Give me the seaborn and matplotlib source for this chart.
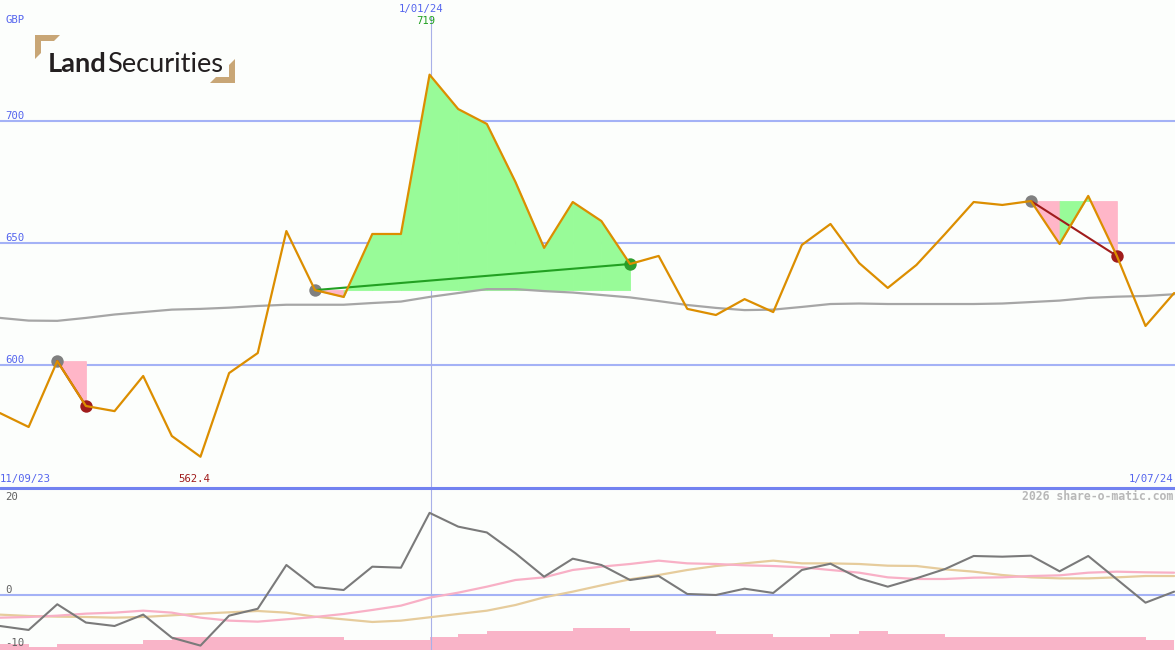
import numpy as np
import pandas as pd
import seaborn as sns
import matplotlib.pyplot as plt
from matplotlib.patches import Polygon


# weekly closes, GBP (pence)
price = [580.3, 574.6, 601.6, 583.2, 581.1, 595.5, 570.9, 562.4, 596.7, 604.9,
         654.9, 630.7, 627.9, 653.7, 653.7, 719.0, 704.9, 698.8, 675.0, 648.0,
         666.8, 659.0, 641.4, 644.7, 623.0, 620.5, 627.0, 621.7, 649.2, 657.8,
         641.8, 631.6, 641.0, 653.7, 666.8, 665.6, 667.2, 649.6, 669.3, 644.7,
         616.0, 629.5]
# slow moving average
avg = [619.3, 618.2, 618.1, 619.3, 620.7, 621.7, 622.7, 623.0, 623.5, 624.2,
       624.7, 624.7, 624.7, 625.4, 626.0, 627.9, 629.5, 631.1, 631.1, 630.3,
       629.7, 628.7, 627.7, 626.2, 624.6, 623.4, 622.5, 622.7, 623.8, 625.0,
       625.2, 625.0, 625.0, 625.0, 625.0, 625.2, 625.8, 626.4, 627.5, 628.0,
       628.3, 629.0]
# oscillator panel
momentum = [-5.85, -6.6, -1.75, -5.2, -5.85, -3.7, -8.05, -9.55, -3.9, -2.6,
            5.66, 1.5, 0.94, 5.34, 5.15, 15.5, 12.9, 11.8, 7.87, 3.45,
            6.85, 5.66, 2.83, 3.58, 0.19, 0.0, 1.19, 0.38, 4.72, 5.9,
            3.15, 1.57, 3.15, 4.9, 7.36, 7.23, 7.42, 4.47, 7.36, 2.96,
            -1.45, 0.63]
signal_pink = [-4.28, -4.15, -3.9, -3.52, -3.33, -2.96, -3.33, -4.28, -4.84, -5.03,
               -4.59, -4.15, -3.58, -2.83, -2.01, -0.5, 0.44, 1.57, 2.83, 3.33,
               4.72, 5.35, 5.85, 6.48, 5.97, 5.85, 5.6, 5.47, 5.22, 4.72,
               4.21, 3.33, 3.02, 3.02, 3.27, 3.33, 3.58, 3.71, 4.21, 4.4,
               4.28, 4.21]
signal_tan = [-3.71, -3.96, -4.09, -4.15, -4.28, -4.15, -3.84, -3.52, -3.27, -3.02,
              -3.33, -4.09, -4.59, -5.09, -4.84, -4.21, -3.58, -2.96, -1.89, -0.44,
              0.63, 1.82, 2.96, 3.77, 4.72, 5.47, 5.97, 6.48, 5.97, 5.97,
              5.85, 5.53, 5.47, 4.84, 4.4, 3.77, 3.33, 3.14, 3.14, 3.33,
              3.58, 3.58]
volume = [2, 1, 2, 2, 2, 3, 4, 4, 4, 4, 4, 4, 3, 3, 3, 4, 5, 6, 6, 6,
          7, 7, 6, 6, 6, 5, 5, 4, 4, 5, 6, 5, 5, 4, 4, 4, 4, 4, 4, 4, 3]

# trades: (entry index, exit index)
trades = [(2, 3), (11, 22), (36, 39)]
price_ticks = [600, 650, 700]
osc_ticks = [20, 0, -10]
date_first, date_mid, date_last = "11/09/23", "1/01/24", "1/07/24"
mid_idx = 15

W, H = 1175, 650
BG = "#fcfefc"
BLUE_TXT = "#5565ee"
GRID = "#a4b2f6"
FS = 7.7

sns.set_style("white")
plt.rcParams["font.family"] = ["DejaVu Sans Mono", "DejaVu Sans"]

df = pd.DataFrame({"i": np.arange(len(price)), "price": price, "avg": avg,
                   "mom": momentum, "pink": signal_pink, "tan": signal_tan})

fig = plt.figure(figsize=(W / 100, H / 100), dpi=100, facecolor=BG)
ax = fig.add_axes([0, 1 - 487 / H, 1, 487 / H])
ax2 = fig.add_axes([0, 0, 1, 162 / H])
for a in (ax, ax2):
    a.set_facecolor("none")
    a.set_axis_off()
    a.set_xlim(0, 41.03)
ax.set_ylim(550, 749.6)
ax2.set_ylim(-10.38, 20.19)

# ---- price panel ----
for t in price_ticks:
    ax.axhline(t, color=GRID, lw=1.5, zorder=1)
    ax.annotate(str(t), xy=(0, t), xycoords=("axes fraction", "data"),
                xytext=(5, 0), textcoords="offset pixels", fontsize=FS,
                color=BLUE_TXT, va="bottom")
ax.axvline(mid_idx + 0.05, ymax=1 - 16 / 487, color="#a8b0e8", lw=0.8, zorder=1)

for s, e in trades:
    level = price[s]
    for i in range(s, e):
        xs = np.array([i, i + 1])
        ys = np.array([price[i], price[i + 1]])
        rising = ys[1] > ys[0]
        up_col = "#98fb98"
        dn_col = up_col if rising else "#ffb6c8"
        ax.fill_between(xs, ys, level, where=ys >= level, interpolate=True,
                        facecolor=up_col, edgecolor=up_col, lw=0.6, zorder=2)
        ax.fill_between(xs, ys, level, where=ys <= level, interpolate=True,
                        facecolor=dn_col, edgecolor=dn_col, lw=0.6, zorder=2)

sns.lineplot(data=df, x="i", y="avg", ax=ax, color="#a6a6a6", lw=1.6,
             estimator=None, sort=False, zorder=3)

for s, e in trades:
    win = price[e] > price[s]
    ax.scatter([s], [price[s]], s=80, color="#808080", lw=0, zorder=4)
    ax.scatter([e], [price[e]], s=80, color="#2e9e2e" if win else "#a01c1c",
               lw=0, zorder=4)
    ax.plot([s, e], [price[s], price[e]], color="#22a022" if win else "#a01c1c",
            lw=1.5, zorder=5)

sns.lineplot(data=df, x="i", y="price", ax=ax, color="#dc8e00", lw=1.6,
             estimator=None, sort=False, zorder=6)

# ---- oscillator panel ----
ax2.axhline(0, color=GRID, lw=1.5, zorder=1)
ax2.axvline(mid_idx + 0.05, color="#a8b0e8", lw=0.8, zorder=1)
axv = ax2.twinx()
axv.set_axis_off()
axv.set_ylim(0, 50.6)
axv.bar(np.arange(len(volume)), volume, width=1.0, align="edge",
        color="#f9b4c8", lw=0, zorder=0)
ax2.set_zorder(axv.get_zorder() + 1)
sns.lineplot(data=df, x="i", y="tan", ax=ax2, color="#e6cc9c", lw=1.6,
             estimator=None, sort=False, zorder=2)
sns.lineplot(data=df, x="i", y="pink", ax=ax2, color="#f8b0c6", lw=1.6,
             estimator=None, sort=False, zorder=3)
sns.lineplot(data=df, x="i", y="mom", ax=ax2, color="#7a7a7a", lw=1.5,
             estimator=None, sort=False, zorder=4)
for t in osc_ticks:
    yy = min(t, 17.6)
    ax2.annotate(str(t), xy=(0, yy), xycoords=("axes fraction", "data"),
                 xytext=(5, 0), textcoords="offset pixels", fontsize=FS,
                 color="#606060", va="bottom")

# separator between panels
fig.add_artist(plt.Line2D([0, 1], [1 - 487.5 / H] * 2, color="#7282f0", lw=2.2))


def px(x, y):
    return x / W, 1 - y / H


fig.text(*px(5, 20), "GBP", fontsize=FS, color=BLUE_TXT, va="center")
fig.text(*px(421, 9), date_mid, fontsize=FS, color=BLUE_TXT, ha="center", va="center")
fig.text(*px(426, 21), f"{max(price):.0f}", fontsize=FS, color="#22a022",
         ha="center", va="center")
fig.text(*px(0, 479), date_first, fontsize=FS, color=BLUE_TXT, va="center")
fig.text(*px(194, 479), f"{min(price):.1f}", fontsize=FS, color="#a01c1c",
         ha="center", va="center")
fig.text(*px(1173, 479), date_last, fontsize=FS, color=BLUE_TXT, ha="right", va="center")
fig.text(*px(1173, 496), "2026 share-o-matic.com", fontsize=8.3, color="#b8b8b8",
         ha="right", va="center", fontweight="bold")

# logo
tan = "#c8a676"
fig.add_artist(Polygon([px(35, 35), px(60, 35), px(54, 41), px(41, 41),
                        px(41, 53), px(35, 59)], closed=True, color=tan, lw=0))
fig.add_artist(Polygon([px(235, 83), px(210, 83), px(216, 77), px(229, 77),
                        px(229, 65), px(235, 59)], closed=True, color=tan, lw=0))
tl = fig.text(*px(48, 72), "Land", fontsize=19.6, color="#231f20", fontweight="bold",
              family="Lato", va="baseline")
fig.canvas.draw()
bb = tl.get_window_extent()
fig.text(bb.x1 / W, 1 - 72 / H, "Securities", fontsize=19.6, color="#231f20",
         family="Lato", va="baseline")

fig.savefig("out.png", dpi=100, facecolor=BG)
